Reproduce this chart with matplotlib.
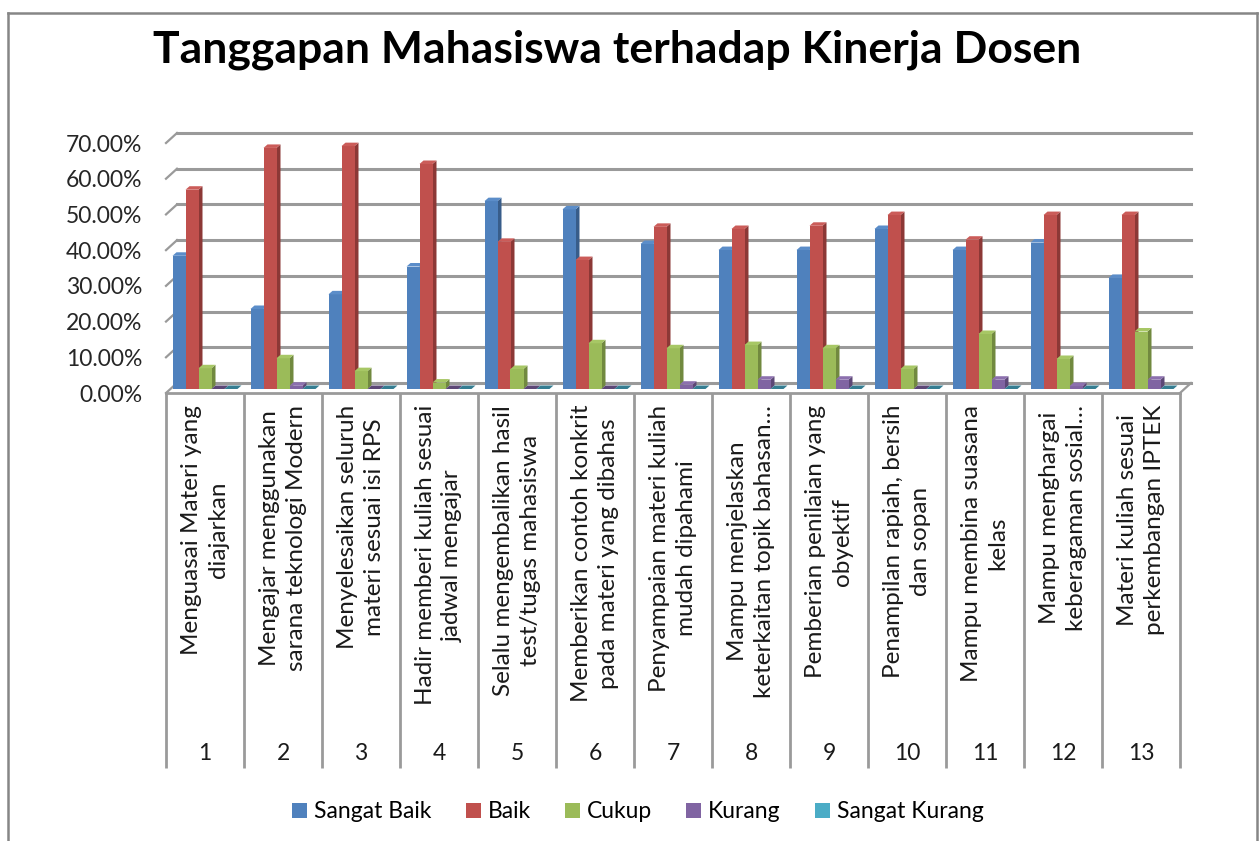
import numpy as np
import matplotlib
matplotlib.use("Agg")
import matplotlib.pyplot as plt
from matplotlib.patches import Polygon, Patch
from matplotlib.lines import Line2D

plt.rcParams["font.family"] = ["Lato", "DejaVu Sans"]

# ── data (percent) ────────────────────────────────────────────────────────────
numbers = [str(i) for i in range(1, 14)]
questions = [
    "Menguasai Materi yang\ndiajarkan",
    "Mengajar menggunakan\nsarana teknologi Modern",
    "Menyelesaikan seluruh\nmateri sesuai isi RPS",
    "Hadir memberi kuliah sesuai\njadwal mengajar",
    "Selalu mengembalikan hasil\ntest/tugas mahasiswa",
    "Memberikan contoh konkrit\npada materi yang dibahas",
    "Penyampaian materi kuliah\nmudah dipahami",
    "Mampu menjelaskan\nketerkaitan topik bahasan…",
    "Pemberian penilaian yang\nobyektif",
    "Penampilan rapiah, bersih\ndan sopan",
    "Mampu membina suasana\nkelas",
    "Mampu menghargai\nkeberagaman sosial…",
    "Materi kuliah sesuai\nperkembangan IPTEK",
]
series_names = ["Sangat Baik", "Baik", "Cukup", "Kurang", "Sangat Kurang"]
sangat_baik   = [37.3, 22.4, 26.5, 34.3, 52.6, 50.3, 40.6, 38.9, 38.9, 44.8, 38.9, 41.0, 31.1]
baik          = [55.8, 67.5, 68.0, 63.0, 41.2, 36.1, 45.4, 44.8, 45.7, 48.7, 41.8, 48.7, 48.7]
cukup         = [5.8, 8.6, 5.0, 1.8, 5.6, 12.8, 11.4, 12.3, 11.4, 5.6, 15.4, 8.4, 16.1]
kurang        = [0.0, 0.9, 0.0, 0.0, 0.0, 0.0, 1.2, 2.6, 2.6, 0.0, 2.6, 0.8, 2.6]
sangat_kurang = [0.0] * 13

series = [sangat_baik, baik, cukup, kurang, sangat_kurang]
face   = ["#4F81BD", "#C0504D", "#9BBB59", "#8064A2", "#4BACC6"]
side   = ["#385D8A", "#8C3836", "#71893F", "#5C4776", "#357D91"]
top    = ["#5B8DC9", "#CB5C59", "#A7C765", "#8C70AE", "#57B8D2"]

# ── layout in pixels (fig is 1259x841 @ 100 dpi) ─────────────────────────────
W, H = 1259, 841
X0, X1 = 166, 1180        # front plane of plot, left/right
Y0, Y70 = 393, 143        # 0% and 70% on the front plane
n = len(numbers)
px_x = (X1 - X0) / n       # pixels per category
px_y = (Y0 - Y70) / 70.0   # pixels per percent

fig = plt.figure(figsize=(W / 100, H / 100), dpi=100)
ax = fig.add_axes([X0 / W, 1 - Y0 / H, (X1 - X0) / W, (Y0 - Y70) / H])
ax.set_xlim(0, n)
ax.set_ylim(0, 70)
for s in ax.spines.values():
    s.set_visible(False)
ax.set_xticks([])
ax.set_yticks(np.arange(0, 71, 10))
ax.set_yticklabels([f"{v:.2f}%" for v in np.arange(0, 71, 10)], fontsize=16.5, color="#262626")
ax.tick_params(axis="y", length=0, pad=17)

grid_c = "#9A9A9A"
# back wall offset
bdx, bdy = 11 / px_x, 10 / px_y
for v in range(0, 71, 10):
    ax.plot([bdx, n + bdx], [v + bdy, v + bdy], color=grid_c, lw=2.2, zorder=1, clip_on=False)
    ax.plot([0, bdx], [v, v + bdy], color=grid_c, lw=1.6, zorder=1, clip_on=False)
# floor
ax.plot([0, n], [0, 0], color=grid_c, lw=2, zorder=5, clip_on=False)
ax.plot([n, n + bdx], [0, bdy], color=grid_c, lw=1.6, zorder=5, clip_on=False)

# ── pseudo-3D bars ────────────────────────────────────────────────────────────
bw = 13 / px_x
ddx, ddy = 4 / px_x, 3.5 / px_y      # bar depth
lift = 4 / px_y                      # bars sit slightly behind front edge
start = (1 - len(series) * bw) / 2
for i in range(n):
    for k, vals in enumerate(series):
        x0 = i + start + k * bw
        x1 = x0 + bw
        b = lift
        h = vals[i]
        zo = 2 + i * 0.1 + k * 0.01
        if h > 0:
            ax.add_patch(Polygon([(x1, b), (x1 + ddx, b + ddy), (x1 + ddx, b + h + ddy), (x1, b + h)],
                                 closed=True, fc=side[k], ec="none", zorder=zo, clip_on=False))
            ax.add_patch(Polygon([(x0, b), (x1, b), (x1, b + h), (x0, b + h)],
                                 closed=True, fc=face[k], ec="none", zorder=zo, clip_on=False))
        ax.add_patch(Polygon([(x0, b + h), (x1, b + h), (x1 + ddx, b + h + ddy), (x0 + ddx, b + h + ddy)],
                             closed=True, fc=top[k] if h > 0 else side[k], ec="none", zorder=zo, clip_on=False))

# ── category box below the floor ──────────────────────────────────────────────
y_box_bot = -(768 - Y0) / px_y
ax.vlines(np.arange(0, n + 1), y_box_bot, 0, colors=grid_c, lw=2, clip_on=False, zorder=5)
for i in range(n):
    ax.text(i + 0.5, -(405 - Y0) / px_y, questions[i], rotation=90, ha="center", va="top",
            multialignment="center", fontsize=17.5, color="#1a1a1a", linespacing=1.3)
    ax.text(i + 0.5, -(753 - Y0) / px_y, numbers[i], ha="center", va="center",
            fontsize=16.5, color="#1a1a1a")

# ── title, legend, frame ─────────────────────────────────────────────────────
fig.text(617 / W, 1 - 50 / H, "Tanggapan Mahasiswa terhadap Kinerja Dosen",
         ha="center", va="center", fontsize=32, fontweight="bold", color="black")

handles = [Patch(fc=c, ec="none") for c in face]
fig.legend(handles, series_names, loc="center", bbox_to_anchor=(638 / W, 1 - 812 / H),
           ncol=5, frameon=False, fontsize=16.5, handlelength=0.65, handleheight=0.65,
           handletextpad=0.3, columnspacing=1.5)

frame_c = "#868686"
fig.add_artist(Line2D([8 / W, 8 / W], [0, 1 - 13 / H], color=frame_c, lw=1.8, transform=fig.transFigure))
fig.add_artist(Line2D([8 / W, 1257 / W], [1 - 13 / H, 1 - 13 / H], color=frame_c, lw=1.8, transform=fig.transFigure))
fig.add_artist(Line2D([1257 / W, 1257 / W], [0, 1 - 13 / H], color=frame_c, lw=1.8, transform=fig.transFigure))

plt.savefig("out.png", dpi=100)
